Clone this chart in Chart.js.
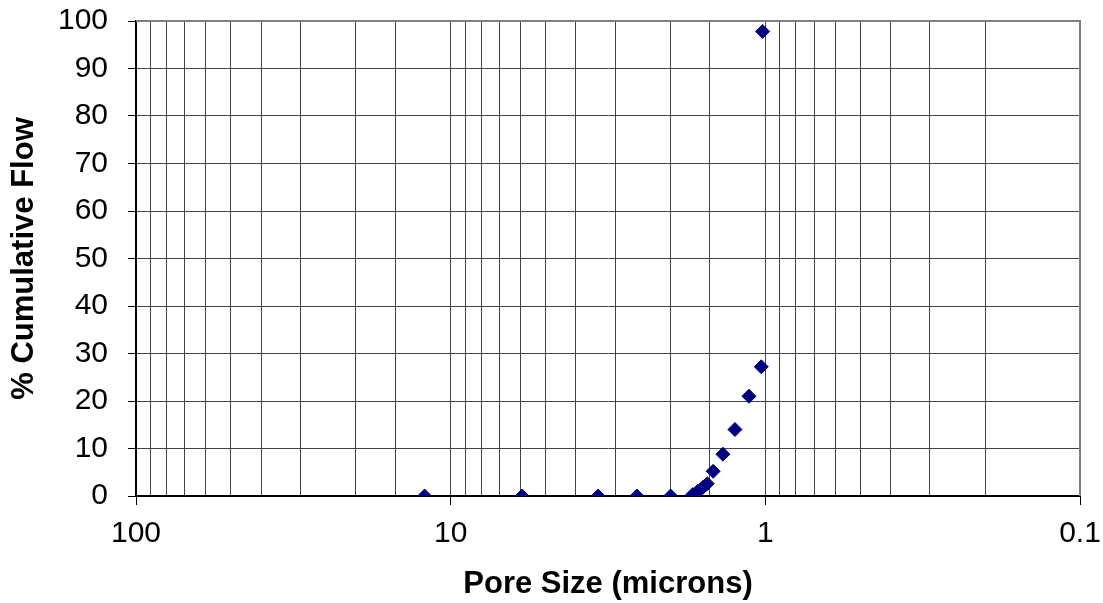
<!DOCTYPE html>
<html lang="en">
    <head>
        <meta charset="UTF-8">
        <style>
            html, body { margin: 0; padding: 0; background: #fff; }
        </style>
    </head>
    <body>
        <script src="https://cdn.jsdelivr.net/npm/chart.js"></script>
        <canvas id="poreChart" width="1103" height="603"></canvas>
        <script type="text/javascript" charset="utf-8">
            // pore size (microns) vs % cumulative flow
            let poreSize = [12.1, 5.93, 3.40, 2.56, 2.00, 1.70, 1.64, 1.58, 1.53, 1.465, 1.364, 1.249, 1.127, 1.03, 1.02];
            let cumFlow = [0, 0, 0, 0, 0, 0.3, 1.0, 1.8, 2.6, 5.2, 8.8, 14.0, 21.0, 27.2, 97.8];
            let xDecades = [100, 10, 1, 0.1];

            let points = poreSize.map((p, i) => ({ x: p, y: cumFlow[i] }));

            function isDecade(v) {
                return xDecades.some(d => Math.abs(v - d) < d * 1e-6);
            }

            // gray frame on top and right of the plot area
            const frame = {
                id: 'frame',
                afterDatasetsDraw(chart) {
                    const a = chart.chartArea;
                    const ctx = chart.ctx;
                    ctx.save();
                    ctx.strokeStyle = '#808080';
                    ctx.lineWidth = 2;
                    ctx.beginPath();
                    ctx.moveTo(a.left, a.top);
                    ctx.lineTo(a.right, a.top);
                    ctx.lineTo(a.right, a.bottom);
                    ctx.stroke();
                    ctx.restore();
                }
            };

            const tickFont = { family: 'Liberation Sans, Arial', size: 30 };
            const titleFont = { family: 'Liberation Sans, Arial', size: 31, weight: 'bold' };

            const config = {
                type: 'scatter',
                data: {
                    datasets: [{
                        label: 'Cumulative Flow',
                        data: points,
                        pointStyle: 'rectRot',
                        pointRadius: 7,
                        pointBorderWidth: 1,
                        backgroundColor: '#000080',
                        borderColor: '#000080',
                        showLine: false
                    }]
                },
                options: {
                    responsive: false,
                    animation: false,
                    layout: { padding: { top: 21, right: 23, left: 0, bottom: 0 } },
                    plugins: {
                        legend: { display: false },
                        tooltip: { enabled: false }
                    },
                    scales: {
                        x: {
                            type: 'logarithmic',
                            reverse: true,
                            min: 0.1,
                            max: 100,
                            afterFit: (s) => { s.height = 107; s.paddingLeft = 0; s.paddingRight = 0; },
                            border: { color: '#000', width: 2 },
                            grid: {
                                color: '#444',
                                lineWidth: 1,
                                tickLength: 9,
                                tickColor: (c) => isDecade(c.tick.value) ? '#000' : 'rgba(0,0,0,0)'
                            },
                            ticks: {
                                autoSkip: false,
                                maxRotation: 0,
                                padding: 11,
                                color: '#000',
                                font: tickFont,
                                callback: (v) => isDecade(v) ? String(v) : ''
                            },
                            title: {
                                display: true,
                                text: 'Pore Size (microns)',
                                color: '#000',
                                font: titleFont,
                                padding: { top: 10, bottom: 0 }
                            }
                        },
                        y: {
                            min: 0,
                            max: 100,
                            afterFit: (s) => { s.width = 136; s.paddingTop = 0; s.paddingBottom = 0; },
                            border: { color: '#000', width: 2 },
                            grid: {
                                color: '#444',
                                lineWidth: 1,
                                tickLength: 8,
                                tickColor: '#000'
                            },
                            ticks: {
                                stepSize: 10,
                                padding: 20,
                                color: '#000',
                                font: tickFont
                            },
                            title: {
                                display: true,
                                text: '% Cumulative Flow',
                                color: '#000',
                                font: titleFont,
                                padding: { top: 6, bottom: 0 }
                            }
                        }
                    }
                },
                plugins: [frame]
            };

            let chart = new Chart(document.getElementById('poreChart'), config);
        </script>
    </body>
</html>
